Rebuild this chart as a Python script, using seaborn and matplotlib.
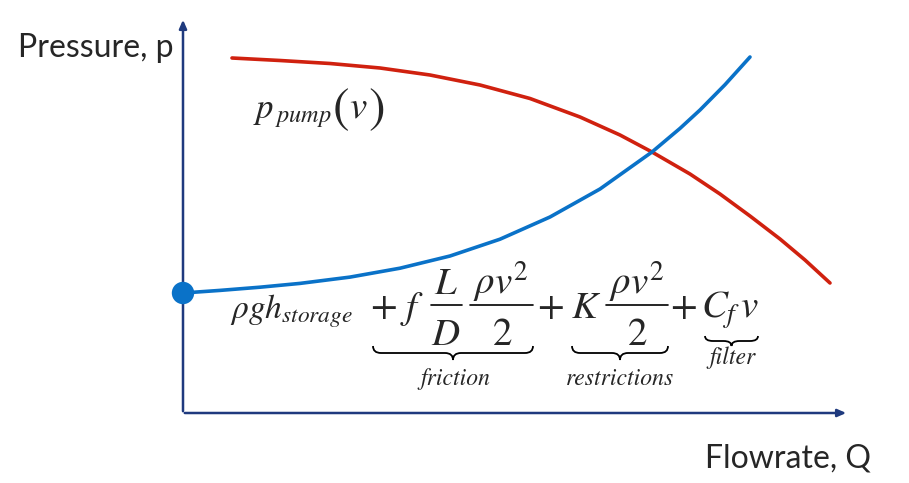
import matplotlib
matplotlib.use("Agg")
import matplotlib.pyplot as plt
import seaborn as sns
from matplotlib.path import Path
from matplotlib.patches import PathPatch

# curves (x = flowrate, y = pressure, picture pixels, y downwards)
pump_x = [232, 280, 330, 380, 430, 480, 530, 580, 620, 652, 690, 720, 750, 780, 805, 830]
pump_y = [58, 60.5, 63.5, 68, 75, 85, 98.5, 117, 135, 152, 174, 194, 216, 239, 260, 283]
sys_x = [183, 220, 260, 300, 350, 400, 450, 500, 550, 600, 652, 680, 700, 725, 750]
sys_y = [293, 290.4, 287.2, 283.4, 277.1, 268.2, 256, 239.2, 217, 189, 152, 128.4, 110, 84.7, 57]
start_x = [183]
start_y = [293]

red = "#D0210F"
blue = "#0A72C8"
navy = "#1F3A7E"

sns.set_style("white")
plt.rcParams["mathtext.fontset"] = "stix"

fig = plt.figure(figsize=(9.09, 4.83), dpi=100)
ax = fig.add_axes([0, 0, 1, 1])

sns.lineplot(x=pump_x, y=pump_y, color=red, lw=2.6, ax=ax)
sns.lineplot(x=sys_x, y=sys_y, color=blue, lw=2.6, ax=ax)
sns.scatterplot(x=start_x, y=start_y, color=blue, s=260, edgecolor="none", zorder=5, ax=ax)

ax.set_xlim(0, 909)
ax.set_ylim(483, 0)
ax.axis("off")

# axes arrows
ax.annotate("", xy=(183, 17), xytext=(183, 414),
            arrowprops=dict(arrowstyle="-|>,head_length=0.5,head_width=0.22", color=navy, lw=1.8))
ax.annotate("", xy=(849, 413), xytext=(182, 413),
            arrowprops=dict(arrowstyle="-|>,head_length=0.5,head_width=0.22", color=navy, lw=1.8))

ax.text(18, 48, "Pressure, p", fontsize=23, family="Lato", va="center", ha="left")
ax.text(705, 458, "Flowrate, Q", fontsize=23, family="Lato", va="center", ha="left")

fs = 28
base = 318
num_base = 294
den_base = 345
bar_y = 305


def m(x, y, s, ha="left", size=fs):
    ax.text(x, y, s, fontsize=size, ha=ha, va="baseline")


def bar(x0, x1):
    ax.plot([x0, x1], [bar_y, bar_y], color="black", lw=1.2)


# pump curve label
m(253, 118, r"$p_{\,pump}$", size=25)
m(341, 122, r"$($", ha="center", size=36)
m(358, 118, r"$v$", ha="center")
m(376, 122, r"$)$", ha="center", size=36)

# system curve terms
m(230, base, r"$\rho g h_{storage}$", size=24)
m(383, base, r"$+$", ha="center")
m(400, base, r"$f$")
m(446, num_base, r"$L$", ha="center")
bar(431, 462)
m(446, den_base, r"$D$", ha="center")
m(501, num_base, r"$\rho v^2$", ha="center")
bar(470, 533)
m(502, den_base, r"$2$", ha="center")
m(550, base, r"$+$", ha="center")
m(571, base, r"$K$")
m(637, num_base, r"$\rho v^2$", ha="center")
bar(606, 668)
m(637, den_base, r"$2$", ha="center")
m(683, base, r"$+$", ha="center")
m(701, base, r"$C_{f}\,v$")


def brace(x0, x1, y, h):
    xm = (x0 + x1) / 2
    r = min(8, (x1 - x0) / 6)
    verts = [(x0, y), (x0, y + h / 2), (x0 + r, y + h / 2),
             (xm - r, y + h / 2),
             (xm, y + h / 2), (xm, y + h),
             (xm, y + h / 2), (xm + r, y + h / 2),
             (x1 - r, y + h / 2),
             (x1, y + h / 2), (x1, y)]
    codes = [Path.MOVETO, Path.CURVE3, Path.CURVE3, Path.LINETO,
             Path.CURVE3, Path.CURVE3, Path.CURVE3, Path.CURVE3,
             Path.LINETO, Path.CURVE3, Path.CURVE3]
    ax.add_patch(PathPatch(Path(verts, codes), fill=False, lw=1.3, color="black"))


brace(373, 533, 346, 14)
brace(572, 668, 346, 14)
brace(705, 758, 336, 10)

lab = dict(fontsize=17, family="STIXGeneral", style="italic", ha="center", va="center")
ax.text(455, 379, "friction", **lab)
ax.text(620, 379, "restrictions", **lab)
ax.text(733, 358, "filter", **lab)

plt.savefig("out.png", dpi=100)
